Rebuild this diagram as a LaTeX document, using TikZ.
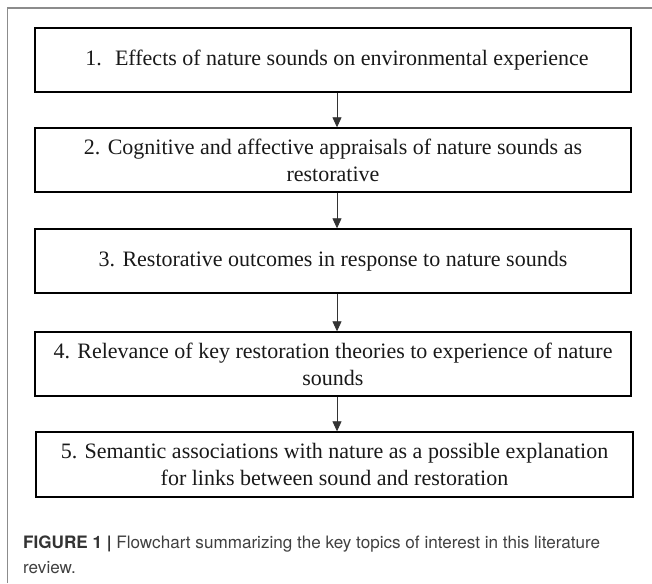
\documentclass[tikz,border=0pt]{standalone}
\usepackage{fontspec}
\setmainfont{Liberation Serif}
\newfontfamily\capfont{TeX Gyre Heros}
\usetikzlibrary{arrows.meta}
\definecolor{framegray}{HTML}{8C8C8C}
\definecolor{captext}{HTML}{404040}
\begin{document}
\begin{tikzpicture}[x=1pt,y=-1pt,
  topicbox/.style={draw=black, line width=1.4pt, minimum width=596pt, minimum height=64pt,
    inner sep=0pt, align=center, font=\fontsize{22}{27}\selectfont, text=black!90},
  flowarrow/.style={draw=black!80, line width=0.8pt, -{Triangle[length=10pt,width=9pt]}}]
\useasboundingbox (0,0) rectangle (652,583);
\draw[framegray, line width=1.6pt] (7.5,583) -- (7.5,8) -- (652,8);
\node[topicbox] (b1) at (333,60) {\hspace{8pt}1.\hspace{0.6em}Effects of nature sounds on environmental experience};
\node[topicbox] (b2) at (333,160) {2. Cognitive and affective appraisals of nature sounds as\\restorative};
\node[topicbox] (b3) at (333,261) {3. Restorative outcomes in response to nature sounds};
\node[topicbox] (b4) at (333,364) {4. Relevance of key restoration theories to experience of nature\\sounds};
\node[topicbox, minimum width=597pt, minimum height=65pt] (b5) at (334.5,464.5) {5. Semantic associations with nature as a possible explanation\\for links between sound and restoration};
\coordinate (ax) at (337,0);
\draw[flowarrow] (ax |- b1.south) -- (ax |- b2.north);
\draw[flowarrow] (ax |- b2.south) -- (ax |- b3.north);
\draw[flowarrow] (ax |- b3.south) -- (ax |- b4.north);
\draw[flowarrow] (ax |- b4.south) -- (ax |- b5.north);
\node[anchor=base west, inner sep=0pt, font=\capfont\fontsize{17.1}{20}\selectfont, text=captext] (cap1) at (23,548)
  {{\bfseries\color{black!80}FIGURE 1 |} Flowchart summarizing the key topics of interest in this literature};
\node[anchor=base west, inner sep=0pt, font=\capfont\fontsize{17.1}{20}\selectfont, text=captext] (cap2) at (23,573) {review.};
\end{tikzpicture}
\end{document}
